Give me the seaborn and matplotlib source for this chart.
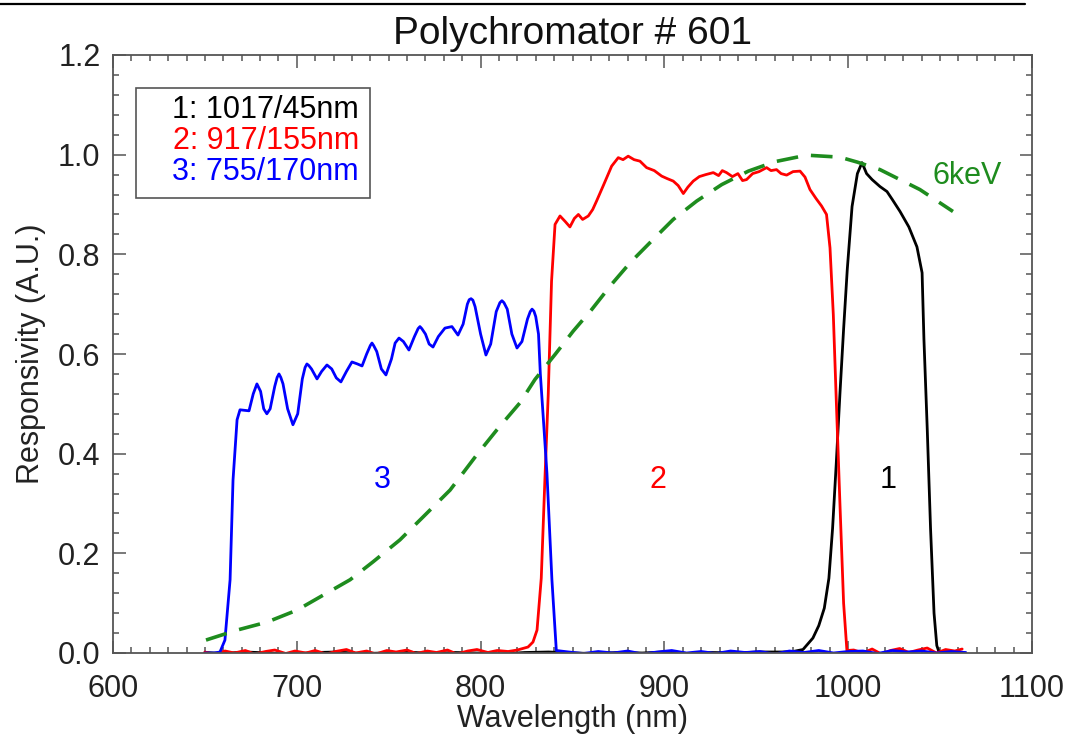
import matplotlib
matplotlib.use("Agg")
import matplotlib.pyplot as plt
from matplotlib.lines import Line2D
from matplotlib.patches import Rectangle
from matplotlib.ticker import MultipleLocator
import seaborn as sns
import pandas as pd

# ---------------- data ----------------
# channel 1: 1017/45nm (black)
wl1 = [650, 660, 672, 685, 697, 710, 722, 735, 748, 760, 773, 786, 798, 811, 824,
       837, 850, 862, 875, 888, 900, 913, 926, 939, 951, 964, 970.0, 975.4, 980.8,
       984.0, 987.0, 989.5, 991.5, 993.5, 995.5, 997.5, 999.5, 1002.1, 1005.0,
       1007.5, 1010.0, 1013.0, 1017.3, 1021.1, 1024.0, 1028.2, 1033.0, 1037.4,
       1040.2, 1041.2, 1043.0, 1044.8, 1046.7, 1048.2, 1049.5, 1054, 1058, 1063]
r1 = [0.001, -0.001, 0.002, 0.0, -0.002, 0.001, 0.002, -0.001, 0.0, 0.002, -0.001,
      0.001, 0.0, -0.002, 0.001, 0.002, 0.0, -0.001, 0.001, 0.0, 0.002, -0.001,
      0.001, 0.0, 0.002, 0.002, 0.003, 0.007, 0.030, 0.055, 0.090, 0.150, 0.250,
      0.380, 0.520, 0.650, 0.770, 0.896, 0.962, 0.984, 0.962, 0.950, 0.936, 0.926,
      0.910, 0.886, 0.855, 0.815, 0.763, 0.63, 0.45, 0.25, 0.08, 0.015, 0.001,
      -0.001, 0.001, 0.0]

# channel 2: 917/155nm (red)
wl2 = [650, 655, 661, 666, 672, 677, 683, 688, 694, 699, 705, 710, 716, 721, 727,
       732, 738, 743, 749, 754, 760, 765, 771, 776, 782, 787, 793, 798, 804, 809,
       815, 820, 825.8, 828.5, 830.7, 833.0, 835.0, 836.8, 838.6, 840.5, 843.2,
       846.0, 848.6, 851.0, 853.2, 855.5, 858.6, 861.0, 863.1, 867.0, 871.3,
       874.9, 877.5, 880.3, 883.5, 886.7, 890.3, 894.5, 898.5, 901.5, 904.8,
       907.5, 910.3, 912.8, 915.7, 919.0, 922.5, 926.6, 929.5, 931.5, 933.8,
       937.0, 940.0, 942.5, 944.7, 948.0, 951.5, 955.6, 958.0, 961.0, 963.5,
       966.5, 970.0, 973.8, 976.5, 979.2, 982.5, 985.5, 988.2, 990.1, 991.9,
       993.4, 995.5, 997.5, 999.3, 1003, 1008, 1013, 1018, 1023, 1028, 1033,
       1038, 1043, 1048, 1053, 1058, 1062]
r2 = [0.002, -0.003, 0.004, 0.0, 0.005, -0.002, 0.003, 0.006, -0.001, 0.004, 0.0,
      0.005, -0.002, 0.003, 0.007, 0.0, 0.004, -0.002, 0.005, 0.002, 0.006, -0.001,
      0.004, 0.001, 0.006, -0.002, 0.004, 0.007, 0.001, 0.005, 0.003, 0.006, 0.012,
      0.022, 0.046, 0.150, 0.350, 0.519, 0.746, 0.860, 0.877, 0.866, 0.855, 0.872,
      0.880, 0.870, 0.877, 0.890, 0.907, 0.940, 0.977, 0.994, 0.990, 0.997, 0.990,
      0.987, 0.974, 0.968, 0.957, 0.952, 0.947, 0.938, 0.922, 0.935, 0.947, 0.956,
      0.960, 0.964, 0.958, 0.968, 0.964, 0.956, 0.962, 0.948, 0.950, 0.962, 0.966,
      0.974, 0.968, 0.970, 0.962, 0.959, 0.966, 0.967, 0.955, 0.930, 0.912, 0.897,
      0.880, 0.813, 0.679, 0.519, 0.300, 0.100, 0.005, 0.006, 0.0, 0.008, -0.002,
      0.005, 0.009, 0.001, 0.006, 0.010, 0.0, 0.007, 0.004, 0.008]

# channel 3: 755/170nm (blue)
wl3 = [650, 655, 658.2, 660.9, 663.7, 665.3, 667.5, 669.1, 671.5, 674.0, 676.3,
       678.3, 680.3, 682.0, 683.7, 685.5, 688.0, 689.3, 690.3, 691.3, 692.5, 695.0,
       697.9, 700.5, 703.0, 704.5, 705.5, 706.5, 708.0, 711.0, 713.5, 716.4, 719.0,
       721.5, 724.0, 727.0, 730.0, 733.0, 735.5, 738.0, 740.0, 740.9, 741.8, 743.5,
       746.0, 748.5, 751.5, 753.5, 755.6, 758.0, 761.0, 764.0, 766.0, 767.0, 768.0,
       770.0, 772.0, 774.1, 777.0, 780.6, 784.4, 787.7, 790.5, 792.8, 793.8, 794.8,
       795.8, 797.0, 800.0, 802.9, 805.5, 808.5, 810.5, 811.6, 812.7, 814.5, 817.0,
       819.8, 822.5, 825.5, 827.0, 828.0, 829.0, 830.0, 831.5, 832.5, 834.5, 836.1,
       838.8, 841.2, 848, 856, 864, 872, 880, 888, 896, 904, 912, 920, 928, 936,
       944, 952, 960, 968, 976, 984, 992, 1000, 1008, 1016, 1024, 1032, 1040,
       1048, 1056, 1064]
r3 = [0.0, 0.0, 0.002, 0.026, 0.147, 0.347, 0.468, 0.488, 0.487, 0.486, 0.52,
      0.54, 0.525, 0.49, 0.48, 0.49, 0.535, 0.553, 0.56, 0.553, 0.54, 0.49, 0.458,
      0.48, 0.55, 0.573, 0.58, 0.577, 0.57, 0.55, 0.565, 0.578, 0.57, 0.552, 0.544,
      0.565, 0.584, 0.58, 0.576, 0.60, 0.617, 0.622, 0.617, 0.605, 0.57, 0.558,
      0.59, 0.622, 0.632, 0.625, 0.608, 0.635, 0.651, 0.655, 0.651, 0.64, 0.62,
      0.614, 0.635, 0.652, 0.655, 0.638, 0.66, 0.70, 0.709, 0.711, 0.708, 0.695,
      0.64, 0.598, 0.62, 0.685, 0.703, 0.707, 0.703, 0.69, 0.64, 0.612, 0.625,
      0.67, 0.685, 0.69, 0.686, 0.675, 0.64, 0.56, 0.45, 0.36, 0.147, 0.005,
      0.002, -0.001, 0.003, 0.0, 0.004, -0.002, 0.002, 0.005, 0.0, 0.003, -0.001,
      0.004, 0.001, 0.003, -0.002, 0.004, 0.001, 0.005, 0.0, 0.003, 0.004, -0.001,
      0.005, 0.002, 0.004, 0.0, 0.003, 0.001]

# 6keV spectrum (green dashed)
wl_te = [650.6, 667.5, 683.8, 700.1, 714.3, 729.0, 741.5, 756.1, 768.7, 783.4,
         798.0, 808.9, 821.4, 829.6, 840.5, 850.4, 860.4, 871.3, 881.3, 893.1,
         904.8, 917.6, 931.2, 945.7, 960.2, 977.4, 995.5, 1005.0, 1017.3, 1039.0,
         1057.0]
r_te = [0.026, 0.046, 0.062, 0.086, 0.116, 0.147, 0.183, 0.227, 0.273, 0.327,
        0.398, 0.448, 0.502, 0.549, 0.599, 0.646, 0.689, 0.740, 0.783, 0.827,
        0.870, 0.907, 0.940, 0.967, 0.986, 0.999, 0.995, 0.985, 0.970, 0.930,
        0.886]

legend_labels = ["1: 1017/45nm", "2: 917/155nm", "3: 755/170nm"]
channel_tags = ["1", "2", "3"]
tag_x = [1021.7, 896.5, 746.4]
tag_y = [0.347, 0.347, 0.347]
spectrum_label = "6keV"

x_ticks = [600, 700, 800, 900, 1000, 1100]
y_ticks = [0.0, 0.2, 0.4, 0.6, 0.8, 1.0, 1.2]

colors = ["black", "red", "blue"]
green = "#1e8c1e"

# ---------------- figure ----------------
sns.set_style("ticks")
plt.rcParams["font.family"] = ["Liberation Sans", "DejaVu Sans"]

fig = plt.figure(figsize=(10.82, 7.40), dpi=100)
ax = fig.add_axes([113 / 1082, 87 / 740, 919 / 1082, 598 / 740])

df1 = pd.DataFrame({"wl": wl1, "r": r1})
df2 = pd.DataFrame({"wl": wl2, "r": r2})
df3 = pd.DataFrame({"wl": wl3, "r": r3})
dft = pd.DataFrame({"wl": wl_te, "r": r_te})

lw = 2.0
kw = dict(ax=ax, estimator=None, sort=False, solid_joinstyle="round")
sns.lineplot(data=df1, x="wl", y="r", color=colors[0], lw=lw, **kw)
sns.lineplot(data=df2, x="wl", y="r", color=colors[1], lw=lw, **kw)
sns.lineplot(data=df3, x="wl", y="r", color=colors[2], lw=lw, **kw)
sns.lineplot(data=dft, x="wl", y="r", color=green, lw=2.6, ax=ax,
             estimator=None, sort=False, linestyle=(0, (6.0, 3.6)))

ax.set_xlim(600, 1100)
ax.set_ylim(0, 1.2)
ax.set_xticks(x_ticks)
ax.set_xticklabels([str(t) for t in x_ticks])
ax.set_yticks(y_ticks)
ax.set_yticklabels([f"{t:.1f}" for t in y_ticks])
ax.xaxis.set_minor_locator(MultipleLocator(10))
ax.yaxis.set_minor_locator(MultipleLocator(0.04))

frame_c = "#555555"
for s in ax.spines.values():
    s.set_visible(True)
    s.set_color(frame_c)
    s.set_linewidth(1.3)
ax.tick_params(which="both", direction="in", top=True, right=True,
               color=frame_c, width=1.1)
ax.tick_params(which="major", length=9)
ax.tick_params(which="minor", length=4.5)
ax.tick_params(axis="x", which="major", labelsize=22, pad=15, labelcolor="#222222")
ax.tick_params(axis="y", which="major", labelsize=22, pad=9, labelcolor="#222222")

ax.set_xlabel("Wavelength (nm)", fontsize=22, color="#222222")
ax.set_ylabel("Responsivity (A.U.)", fontsize=22, color="#222222")
ax.xaxis.set_label_coords(0.5, -0.085)
ax.yaxis.set_label_coords(-0.073, 0.5)
ax.set_title("Polychromator # 601", fontsize=28, pad=8, color="#111111")

# legend box with coloured text
ax.add_patch(Rectangle((0.025, 0.761), 0.2547, 0.184, transform=ax.transAxes,
                       fill=False, edgecolor="#555555", lw=1.2, zorder=5))
for lab, c, yy in zip(legend_labels, colors, [0.908, 0.856, 0.804]):
    ax.text(0.2677, yy, lab, color=c, fontsize=22, ha="right", va="center",
            transform=ax.transAxes, zorder=6)

for t, c, xx, yy in zip(channel_tags, colors, tag_x, tag_y):
    ax.text(xx, yy, t, color=c, fontsize=22, ha="center", va="center")
ax.text(1046, 0.958, spectrum_label, color=green, fontsize=22, ha="left",
        va="center")

fig.add_artist(Line2D([0, 1025 / 1082], [1 - 3.5 / 740] * 2, color="black",
                      lw=1.6, transform=fig.transFigure))

fig.savefig("out.png", dpi=100)
